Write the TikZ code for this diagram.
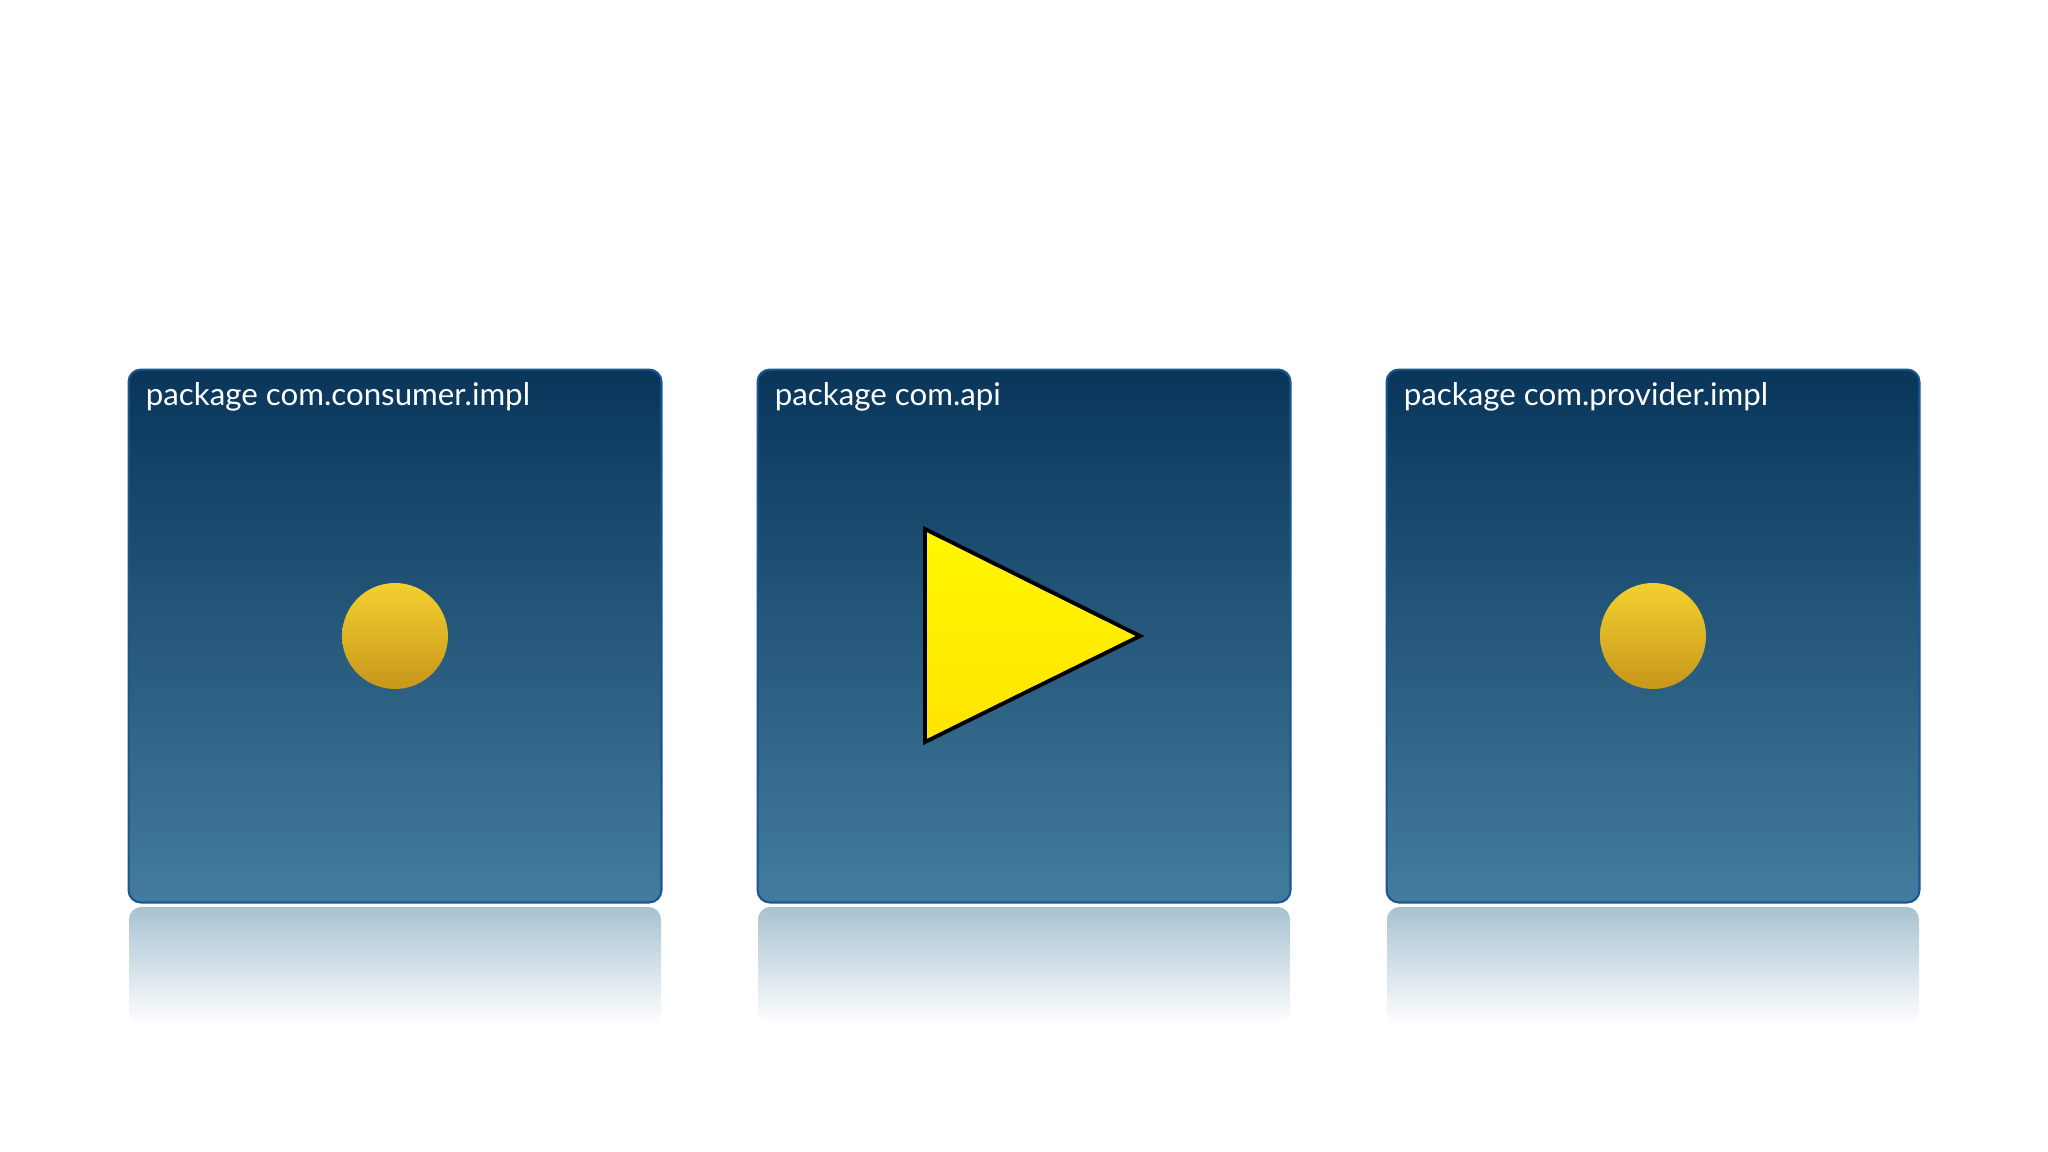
\documentclass[tikz,border=0pt]{standalone}
\usepackage{fontspec}
\setmainfont{Lato}
\usepackage{tikz}
\usetikzlibrary{positioning}
\definecolor{boxtop}{HTML}{09365A}
\definecolor{boxbot}{HTML}{437C9E}
\definecolor{boxedge}{HTML}{1A5690}
\definecolor{balltop}{HTML}{F3D12F}
\definecolor{ballbot}{HTML}{C7961B}
\definecolor{tritop}{HTML}{FFF800}
\definecolor{tribot}{HTML}{FFE400}
\definecolor{mirror}{HTML}{A8C2D1}
\tikzstyle{pacchetto} = [rectangle, draw=boxedge, line width=1.2pt,
    rounded corners=7pt, top color=boxtop, bottom color=boxbot,
    minimum width=10.66cm, minimum height=10.66cm, inner sep=0pt]
\tikzstyle{etichetta} = [text=white, font=\fontsize{17.8}{20}\selectfont,
    inner sep=0pt, anchor=base west]
\tikzstyle{pallina} = [circle, minimum size=2.12cm, inner sep=0pt,
    top color=balltop, bottom color=ballbot]
\tikzstyle{riflesso} = [rounded corners=7pt, top color=mirror,
    bottom color=white]

\begin{document}
\begin{tikzpicture}[x=0.02cm, y=-0.02cm]
  \useasboundingbox[fill=white] (0,0) rectangle (2048,1152);

  % riflessi sotto le scatole
  \foreach \cx in {395,1024,1653}
    \shade[riflesso] (\cx-266,907) rectangle (\cx+266,1025);

  \node [pacchetto] (consumer) at (395,636) {};
  \node [pacchetto] (api) at (1024,636) {};
  \node [pacchetto] (provider) at (1653,636) {};

  \node [etichetta] (lconsumer) at ([xshift=0.36cm, yshift=-0.74cm]consumer.north west)
    {package com.consumer.impl};
  \node [etichetta] (lapi) at ([xshift=0.36cm, yshift=-0.74cm]api.north west)
    {package com.api};
  \node [etichetta] (lprovider) at ([xshift=0.36cm, yshift=-0.74cm]provider.north west)
    {package com.provider.impl};

  \node [pallina] (bconsumer) at (consumer.center) {};
  \node [pallina] (bprovider) at (provider.center) {};

  % triangolo dell'api
  \coordinate (t1) at ([xshift=-1.98cm, yshift=2.14cm]api.center);
  \coordinate (t2) at ([xshift=-1.98cm, yshift=-2.12cm]api.center);
  \coordinate (t3) at ([xshift=2.32cm]api.center);
  \draw [black, line width=2.2pt, line join=miter, top color=tritop, bottom color=tribot]
    (t1) -- (t3) -- (t2) -- cycle;
\end{tikzpicture}
\end{document}
